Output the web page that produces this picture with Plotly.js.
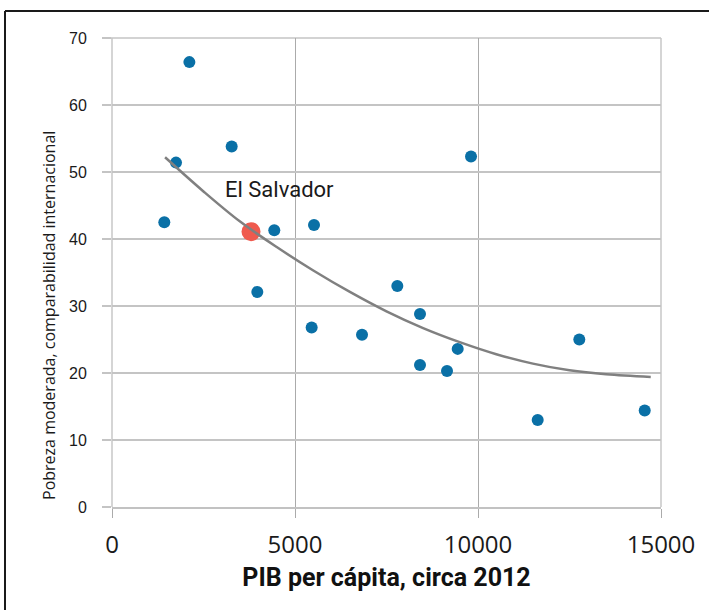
<!DOCTYPE html>
<html>
<head>
<meta charset="utf-8">
<script src="https://cdn.plot.ly/plotly-3.0.1.min.js"></script>
<style>
  html, body { margin: 0; padding: 0; background: #ffffff; }
  #chart { width: 709px; height: 610px; }
</style>
</head>
<body>
<div id="chart"></div>
<script>
// GDP per capita (circa 2012) and moderate poverty (%)
const gdp = [1429, 1749, 2114, 3270, 3970, 4434, 5519, 5455, 6831, 7796, 8415, 8415, 9153, 9445, 9809, 11631, 12768, 14555];
const poverty = [42.5, 51.4, 66.4, 53.8, 32.1, 41.3, 42.1, 26.8, 25.7, 33.0, 28.8, 21.2, 20.3, 23.6, 52.3, 13.0, 25.0, 14.4];

// Highlighted country
const highlightName = "El Salvador";
const highlightGdp = [3798];
const highlightPoverty = [41.1];

// Trend line
const trendGdp = [1450, 2500, 3500, 4500, 5500, 6500, 7500, 8500, 9500, 10500, 11500, 12500, 13500, 14720];
const trendPoverty = [52.2, 47.1, 42.6, 38.8, 35.3, 32.1, 29.2, 26.7, 24.6, 22.8, 21.4, 20.4, 19.8, 19.4];

// Axis ticks and titles
const xTicks = [0, 5000, 10000, 15000];
const yTicks = [0, 10, 20, 30, 40, 50, 60, 70];
const xTitle = "PIB per cápita, circa 2012";
const yTitle = "Pobreza moderada, comparabilidad internacional";

const traces = [
  {
    type: "scatter", mode: "markers",
    x: gdp, y: poverty,
    marker: { color: "#0a70a6", size: 12, line: { width: 0 } },
    hoverinfo: "x+y", showlegend: false
  },
  {
    type: "scatter", mode: "markers",
    x: highlightGdp, y: highlightPoverty,
    marker: { color: "#ef5a4e", size: 19, line: { width: 0 } },
    name: highlightName, showlegend: false
  },
  {
    type: "scatter", mode: "lines",
    x: trendGdp, y: trendPoverty,
    line: { color: "#808080", width: 2.5, shape: "spline", smoothing: 1 },
    hoverinfo: "skip", showlegend: false
  }
];

const layout = {
  width: 709, height: 610,
  margin: { l: 112, r: 48, t: 38, b: 103 },
  paper_bgcolor: "#ffffff", plot_bgcolor: "#ffffff",
  showlegend: false,
  xaxis: {
    range: [0, 15000], tickvals: xTicks, ticktext: xTicks.map(String),
    showgrid: true, gridcolor: "#ababab", gridwidth: 1,
    zeroline: false,
    showline: true, linecolor: "#c2c2c2", linewidth: 2,
    ticks: "outside", ticklen: 9, tickcolor: "#ababab", tickwidth: 1,
    ticklabelstandoff: 6,
    tickfont: { family: "Open Sans", size: 24, color: "#1a1a1a" },
    title: { text: xTitle, standoff: 10,
      font: { family: "Roboto", size: 25, color: "#111111", weight: "bold" } },
    fixedrange: true
  },
  yaxis: {
    range: [0, 70], tickvals: yTicks, ticktext: yTicks.map(String),
    showgrid: true, gridcolor: "#c4c4c4", gridwidth: 1.5,
    zeroline: false,
    showline: false,
    ticks: "outside", ticklen: 9, tickcolor: "#c4c4c4", tickwidth: 1.5,
    ticklabelstandoff: 12,
    tickfont: { family: "Liberation Sans", size: 16, color: "#1a1a1a" },
    fixedrange: true
  },
  annotations: [
    {
      text: highlightName, x: highlightGdp[0], y: highlightPoverty[0],
      xref: "x", yref: "y", showarrow: false,
      xanchor: "left", yanchor: "middle", xshift: -28, yshift: 42,
      font: { family: "Roboto", size: 22, color: "#1a1a1a" }
    },
    {
      text: yTitle, textangle: -90,
      xref: "paper", yref: "paper", x: -0.1148, y: 0.4094,
      xanchor: "center", yanchor: "middle", showarrow: false,
      font: { family: "Open Sans", size: 16, color: "#1a1a1a" }
    }
  ],
  shapes: [
    { type: "line", xref: "paper", yref: "paper", x0: -0.1949, x1: 1.1, y0: 1.0576, y1: 1.0576,
      line: { color: "#1a1a1a", width: 2 } },
    { type: "line", xref: "paper", yref: "paper", x0: -0.1949, x1: -0.1949, y0: 1.0576, y1: -0.25,
      line: { color: "#1a1a1a", width: 2 } },
    { type: "line", xref: "paper", yref: "paper", x0: 1, x1: 1, y0: 0, y1: 1,
      line: { color: "#ababab", width: 1 }, layer: "below" },
    { type: "line", xref: "paper", yref: "paper", x0: 0, x1: 0, y0: 0, y1: 1,
      line: { color: "#ababab", width: 1 }, layer: "below" },
    { type: "line", xref: "paper", yref: "paper", x0: -0.0164, x1: 1, y0: 1, y1: 1,
      line: { color: "#c4c4c4", width: 1.5 }, layer: "below" }
  ]
};

Plotly.newPlot("chart", traces, layout, { staticPlot: true, displayModeBar: false });
</script>
</body>
</html>
